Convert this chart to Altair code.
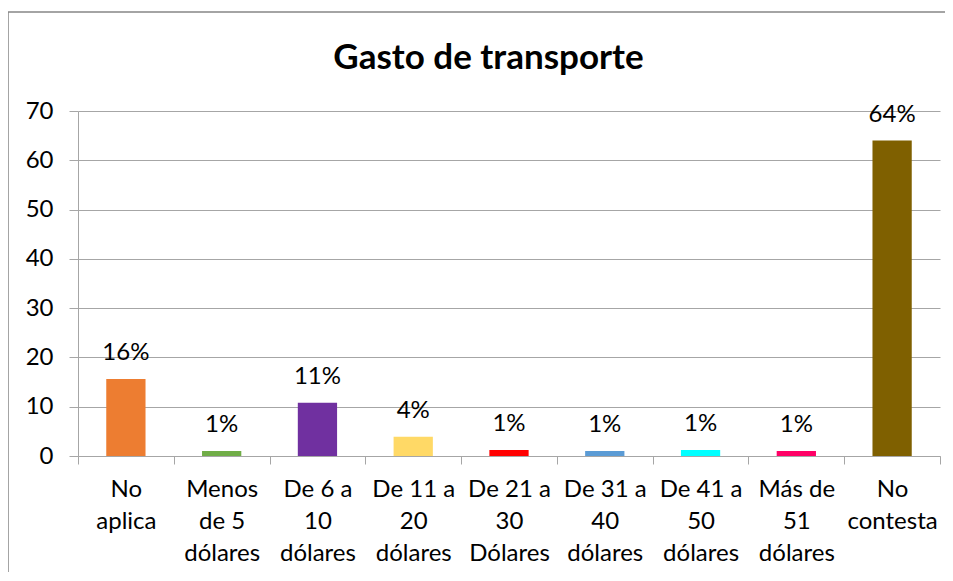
import altair as alt
import pandas as pd

categories = ["No|aplica", "Menos|de 5|dólares", "De 6 a|10|dólares", "De 11 a|20|dólares",
              "De 21 a|30|Dólares", "De 31 a|40|dólares", "De 41 a|50|dólares", "Más de|51|dólares",
              "No|contesta"]
values = [15.6, 1.0, 10.8, 3.9, 1.2, 1.0, 1.2, 1.0, 64.0]
labels = ["16%", "1%", "11%", "4%", "1%", "1%", "1%", "1%", "64%"]
colors = ["#ED7D31", "#70AD47", "#7030A0", "#FFD966", "#FF0000", "#5B9BD5", "#00FFFF", "#FF0066", "#7F6000"]
title_text = "Gasto de transporte"

df = pd.DataFrame({"cat": categories, "val": values, "lab": labels, "col": colors})

FONT = "Lato"
GRID = "#A6A6A6"

x = alt.X("cat:N", sort=categories, title=None,
          scale=alt.Scale(paddingInner=0, paddingOuter=0),
          axis=alt.Axis(labelExpr="split(datum.label, '|')", labelAngle=0,
                        labelFontSize=24, labelFont=FONT, labelColor="#000000",
                        labelLineHeight=32, labelPadding=13, labelBaseline="top",
                        tickBand="extent", tickSize=8, tickColor=GRID,
                        domainColor=GRID, grid=False))
y = alt.Y("val:Q", title=None,
          scale=alt.Scale(domain=[0, 70], nice=False),
          axis=alt.Axis(values=[0, 10, 20, 30, 40, 50, 60, 70], labelFontSize=24, labelFont=FONT,
                        labelColor="#000000", labelPadding=16, tickSize=9, tickColor=GRID,
                        domainColor=GRID, gridColor=GRID, gridWidth=1))

bars = alt.Chart(df).mark_bar(width={"band": 0.41}).encode(
    x=x, y=y, color=alt.Color("col:N", scale=None))

text = alt.Chart(df).mark_text(font=FONT, fontSize=24, baseline="alphabetic", dy=-19, color="#000000").encode(
    x=alt.X("cat:N", sort=categories), y="val:Q", text="lab:N")

frame_top = alt.Chart(alt.Data(values=[{}])).mark_rule(stroke="#868686", strokeWidth=1.5).encode(
    x=alt.value(-70), x2=alt.value(900), y=alt.value(-99))
frame_left = alt.Chart(alt.Data(values=[{}])).mark_rule(stroke="#868686", strokeWidth=1.5).encode(
    x=alt.value(-70), y=alt.value(-99), y2=alt.value(500))

title = alt.Chart(alt.Data(values=[{"t": title_text}])).mark_text(
    font=FONT, fontSize=35, fontWeight="bold", color="#000000", align="center", baseline="alphabetic").encode(
    x=alt.value(410.5), y=alt.value(-42), text="t:N")

chart = alt.layer(frame_top, frame_left, bars, text, title).properties(
    width=862, height=345,
    autosize=alt.AutoSizeParams(type="none"),
    padding={"left": 70, "top": 103, "right": 5, "bottom": 116},
).configure_view(stroke=None)

chart.save("out.html", embed_options={"renderer": "svg", "actions": False})
